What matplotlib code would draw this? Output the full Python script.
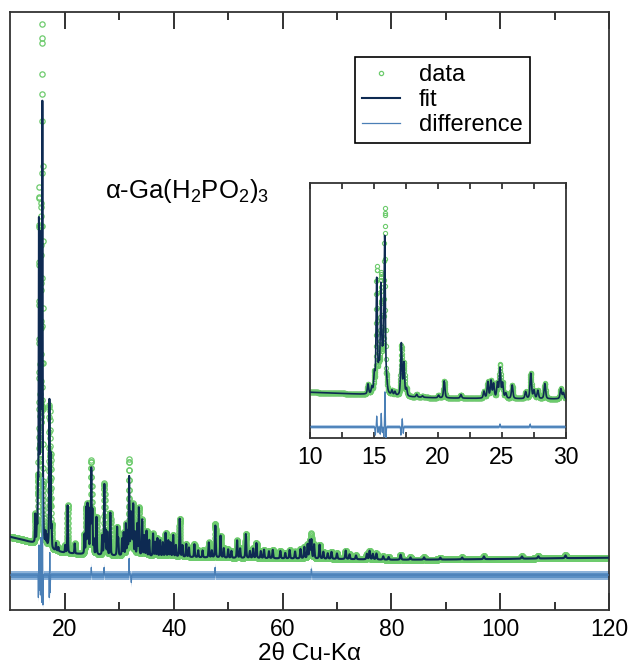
import numpy as np
import matplotlib
matplotlib.use("Agg")
import matplotlib.pyplot as plt

plt.rcParams['font.family'] = ['Liberation Sans', 'DejaVu Sans']
plt.rcParams['mathtext.fontset'] = 'custom'
plt.rcParams['mathtext.rm'] = 'Liberation Sans'
plt.rcParams['mathtext.it'] = 'Liberation Sans'

# ---- data ----
two_theta_min, two_theta_max, step = 10.0, 120.0, 0.01

# background anchors (2theta, counts)
bg_x = [10, 12, 14, 16, 18, 20, 25, 30, 40, 50, 60, 70, 80, 90, 100, 110, 120]
bg_y = [1520, 1470, 1400, 1320, 1250, 1200, 1160, 1140, 1120, 1100, 1090, 1080, 1065, 1070, 1080, 1095, 1105]

# Bragg peaks: positions (2theta) and heights (counts above background)
peak_pos = [14.55, 14.85, 15.05, 15.23, 15.40, 15.56, 15.70, 15.85, 16.00, 16.42, 16.65,
            17.15, 17.35, 17.55, 18.35, 18.80, 20.05, 20.50, 21.80, 23.60, 23.90, 24.15,
            24.35, 24.65, 24.85, 25.05, 25.30, 25.80, 26.85, 27.25, 27.50, 27.80, 28.35,
            29.60, 29.80, 30.50, 30.80, 31.20, 31.50, 31.80, 32.10, 32.30, 32.55, 32.90,
            33.30, 33.60, 34.20, 34.60, 35.00, 35.50, 36.20, 36.60, 37.00, 37.50, 38.00,
            38.50, 39.00, 39.40, 39.90, 40.40, 41.10, 41.60, 42.30, 42.80, 43.80, 44.50,
            45.30, 46.45, 47.00, 47.65, 48.60, 49.20, 50.00, 50.60, 51.65, 52.20, 53.25,
            54.00, 54.60, 55.20, 56.00, 56.60, 57.50, 58.20, 59.60, 60.50, 61.30, 62.30,
            63.30, 64.00, 64.60, 65.00, 65.30, 65.80, 66.80, 67.50, 68.30, 69.00, 70.00,
            71.60, 72.30, 73.50, 75.50, 76.00, 76.60, 77.25, 78.50, 79.50, 81.70, 83.50,
            86.00, 89.00, 93.00, 97.00, 104.0, 107.0, 112.0]
peak_int = [550, 350, 1000, 6300, 1200, 5800, 1600, 8600, 500, 250, 200,
            2900, 1800, 400, 150, 80, 150, 950, 200, 380, 900, 950,
            780, 820, 1650, 820, 280, 750, 380, 1400, 450, 450, 850,
            560, 330, 330, 450, 620, 450, 1550, 800, 620, 1000, 450,
            620, 950, 720, 400, 500, 320, 450, 280, 360, 320, 280,
            470, 320, 280, 430, 230, 760, 230, 260, 190, 260, 140,
            140, 300, 140, 640, 440, 190, 170, 140, 350, 190, 480,
            140, 190, 300, 140, 170, 140, 170, 150, 110, 170, 140,
            190, 230, 280, 350, 370, 280, 280, 140, 110, 140, 110,
            170, 95, 75, 110, 170, 110, 120, 65, 55, 100, 45,
            45, 38, 38, 55, 45, 45, 55]

# observed-minus-fit features (2theta, counts)
resid_pos = [15.12, 15.23, 15.33, 15.50, 15.58, 15.66, 15.78, 15.87, 15.95,
             17.12, 17.22, 17.30, 24.85, 27.20, 31.80, 32.20, 47.60, 65.30]
resid_amp = [-450, 600, -300, -400, 750, -300, -550, 1950, -600,
             -450, 450, -350, 150, 150, 330, -150, 150, 120]

diff_offset_main = 760
diff_offset_inset = -410
noise_outer = 90
noise_inner = 50

# ---- build the curves ----
x = np.arange(two_theta_min, two_theta_max + step / 2, step)
background = np.interp(x, bg_x, bg_y)


def pv(xc, h, w):
    g = np.exp(-4 * np.log(2) * ((x - xc) / w) ** 2)
    l = 1.0 / (1 + 4 * ((x - xc) / w) ** 2)
    return h * (0.5 * g + 0.5 * l)


fit = background.copy()
for p, h in zip(peak_pos, peak_int):
    fit += pv(p, h, 0.11 + 0.0015 * (p - 10))

resid = np.zeros_like(x)
for p, a in zip(resid_pos, resid_amp):
    resid += a * np.exp(-4 * np.log(2) * ((x - p) / 0.05) ** 2)

obs = fit + resid

green = '#6dcb6d'
navy = '#0e2a52'
steel = '#4a7fb6'
band_out = '#8db3da'
band_in = '#5a8fc4'


def draw(ax, off, ms, mew, lw):
    ax.plot(x, obs, 'o', ms=ms, mfc='none', mec=green, mew=mew, zorder=1, label='data')
    ax.plot(x, fit, '-', color=navy, lw=lw, zorder=3, label='fit')
    ax.fill_between(x, off + resid - noise_outer, off + resid + noise_outer,
                    color=band_out, lw=0, zorder=2)
    ax.fill_between(x, off + resid - noise_inner, off + resid + noise_inner,
                    color=band_in, lw=0, zorder=2)
    ax.plot(x, off + resid, '-', color=steel, lw=0.9, zorder=4, label='difference')


fig = plt.figure(figsize=(6.32, 6.66), dpi=100)
ax = fig.add_axes([10.5 / 632, 1 - 610 / 666, 598.5 / 632, 598 / 666])
draw(ax, diff_offset_main, 3.8, 0.9, 1.5)
ax.set_xlim(10, 120)
ax.set_ylim(60, 12020)
ax.set_yticks([])
ax.set_xticks([20, 40, 60, 80, 100, 120])
ax.set_xticks([30, 50, 70, 90, 110], minor=True)
ax.tick_params(axis='x', which='both', direction='in', top=True, labelsize=16.5,
               color='#222222', pad=6)
ax.tick_params(axis='x', which='major', length=12, width=1.3)
ax.tick_params(axis='x', which='minor', length=6, width=1.3)
for s in ax.spines.values():
    s.set_color('#333333')
    s.set_linewidth(1.3)
ax.set_xlabel('2θ Cu-Kα', fontsize=17.5, labelpad=1)

ax.text(0.158, 0.70, r'α-Ga(H$_2$PO$_2$)$_3$', transform=ax.transAxes,
        fontsize=18.5, ha='left', va='center')

leg = ax.legend(loc='upper left', bbox_to_anchor=(0.5756, 0.9247), borderaxespad=0,
                fontsize=17, handlelength=1.6, labelspacing=0.12, handletextpad=0.8,
                borderpad=0.3, fancybox=False, framealpha=1, edgecolor='black',
                markerscale=0.8)
leg.get_frame().set_linewidth(1.2)

# inset
ax2 = fig.add_axes([309.7 / 632, 1 - 438 / 666, 256.3 / 632, 255 / 666])
draw(ax2, diff_offset_inset, 3.0, 0.8, 1.2)
ax2.set_xlim(10, 30)
ax2.set_ylim(-1025, 13160)
ax2.set_yticks([])
ax2.set_xticks([10, 15, 20, 25, 30])
ax2.set_xticks([12.5, 17.5, 22.5, 27.5], minor=True)
ax2.tick_params(axis='x', which='both', direction='in', top=True, labelsize=16.5,
                color='#222222', pad=6)
ax2.tick_params(axis='x', which='major', length=4, width=1.2)
ax2.tick_params(axis='x', which='minor', length=4, width=1.2)
for s in ax2.spines.values():
    s.set_color('#333333')
    s.set_linewidth(1.3)

fig.savefig('out.png', dpi=100)
